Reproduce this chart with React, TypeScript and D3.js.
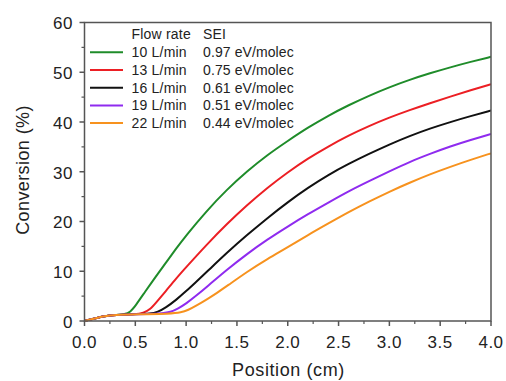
import React from "react";
import * as d3 from "d3";

const flowRates = ["10 L/min", "13 L/min", "16 L/min", "19 L/min", "22 L/min"];
const seiLabels = ["0.97 eV/molec", "0.75 eV/molec", "0.61 eV/molec", "0.51 eV/molec", "0.44 eV/molec"];
const colors = ["#1f8c2a", "#ec1f24", "#111111", "#8f2bef", "#f7921e"];

const pos10 = [0, 0.1, 0.2, 0.3, 0.4, 0.45, 0.5, 0.6, 0.7, 0.8, 0.9, 1.0, 1.2, 1.4, 1.6, 1.8, 2.0, 2.2, 2.4, 2.6, 2.8, 3.0, 3.2, 3.4, 3.6, 3.8, 4.0];
const conv10 = [0, 0.5, 1.0, 1.2, 1.35, 1.8, 3.0, 6.0, 8.9, 11.7, 14.5, 17.2, 22.1, 26.4, 30.1, 33.4, 36.2, 38.9, 41.3, 43.4, 45.3, 47.0, 48.5, 49.8, 51.0, 52.1, 53.1];

const pos13 = [0, 0.1, 0.2, 0.3, 0.5, 0.58, 0.65, 0.7, 0.8, 0.9, 1.0, 1.2, 1.4, 1.6, 1.8, 2.0, 2.2, 2.4, 2.6, 2.8, 3.0, 3.2, 3.4, 3.6, 3.8, 4.0];
const conv13 = [0, 0.5, 1.0, 1.2, 1.35, 1.6, 2.4, 3.6, 6.0, 8.5, 10.8, 15.3, 19.5, 23.3, 26.8, 29.9, 32.7, 35.1, 37.3, 39.2, 40.9, 42.4, 43.8, 45.1, 46.4, 47.6];

const pos16 = [0, 0.1, 0.2, 0.3, 0.5, 0.65, 0.72, 0.8, 0.9, 1.0, 1.1, 1.2, 1.4, 1.6, 1.8, 2.0, 2.2, 2.4, 2.6, 2.8, 3.0, 3.2, 3.4, 3.6, 3.8, 4.0];
const conv16 = [0, 0.5, 1.0, 1.2, 1.35, 1.45, 1.8, 2.7, 4.2, 6.0, 7.9, 9.8, 13.7, 17.3, 20.7, 23.9, 26.8, 29.4, 31.6, 33.6, 35.5, 37.2, 38.7, 40.0, 41.2, 42.3];

const pos19 = [0, 0.1, 0.2, 0.3, 0.5, 0.75, 0.85, 0.92, 1.0, 1.1, 1.2, 1.4, 1.6, 1.8, 2.0, 2.2, 2.4, 2.6, 2.8, 3.0, 3.2, 3.4, 3.6, 3.8, 4.0];
const conv19 = [0, 0.5, 1.0, 1.2, 1.35, 1.45, 1.8, 2.5, 3.5, 5.1, 6.8, 10.3, 13.5, 16.4, 19.0, 21.5, 23.8, 26.1, 28.1, 30.1, 32.0, 33.6, 35.1, 36.4, 37.6];

const pos22 = [0, 0.1, 0.2, 0.3, 0.5, 0.85, 0.95, 1.02, 1.1, 1.2, 1.3, 1.4, 1.6, 1.8, 2.0, 2.2, 2.4, 2.6, 2.8, 3.0, 3.2, 3.4, 3.6, 3.8, 4.0];
const conv22 = [0, 0.5, 1.0, 1.2, 1.35, 1.45, 1.7, 2.2, 3.1, 4.3, 5.6, 7.0, 9.9, 12.5, 14.8, 17.3, 19.6, 21.9, 24.0, 26.0, 27.8, 29.5, 31.0, 32.4, 33.7];

const positions = [pos10, pos13, pos16, pos19, pos22];
const conversions = [conv10, conv13, conv16, conv19, conv22];

const xTicks = [0, 0.5, 1.0, 1.5, 2.0, 2.5, 3.0, 3.5, 4.0];
const yTicks = [0, 10, 20, 30, 40, 50, 60];

export default function App() {
  const W = 506, H = 381;
  const x = d3.scaleLinear().domain([0, 4]).range([84.5, 491]);
  const y = d3.scaleLinear().domain([0, 60]).range([321, 22.5]);
  const font = "Liberation Sans, Arial, sans-serif";
  const axisColor = "#555";
  const textColor = "#222";
  const line = d3
    .line<[number, number]>()
    .x((d) => x(d[0]))
    .y((d) => y(d[1]))
    .curve(d3.curveBasis);
  const xMinor = d3.range(0.25, 4, 0.5);
  const yMinor = d3.range(5, 60, 10);
  const legendX0 = 90, legendX1 = 123, legendText = 131.5, legendSEI = 203;
  const rowY = (i: number) => 52.3 + i * 17.7;
  return (
    <svg width={W} height={H} style={{ position: "absolute", left: 0, top: 0 }} fontFamily={font}>
      <rect x={0} y={0} width={W} height={H} fill="#fff" />
      <defs>
        <clipPath id="plotclip">
          <rect x={x(0)} y={y(60)} width={x(4) - x(0)} height={y(0) - y(60) + 1} />
        </clipPath>
      </defs>
      <g clipPath="url(#plotclip)">
        {positions.map((p, i) => (
          <path
            key={i}
            d={line(p.map((v, j) => [v, conversions[i][j]] as [number, number])) || ""}
            fill="none"
            stroke={colors[i]}
            strokeWidth={2}
          />
        ))}
      </g>
      <rect x={x(0)} y={y(60)} width={x(4) - x(0)} height={y(0) - y(60)} fill="none" stroke={axisColor} strokeWidth={1.5} />
      {xTicks.map((t) => (
        <g key={"xt" + t}>
          <line x1={x(t)} x2={x(t)} y1={y(0)} y2={y(0) + 5} stroke={axisColor} strokeWidth={1.5} />
          <text x={x(t)} y={348} textAnchor="middle" fontSize={17} letterSpacing={0.5} fill={textColor}>
            {t.toFixed(1)}
          </text>
        </g>
      ))}
      {xMinor.map((t) => (
        <line key={"xm" + t} x1={x(t)} x2={x(t)} y1={y(0)} y2={y(0) + 3} stroke={axisColor} strokeWidth={1.2} />
      ))}
      {yTicks.map((t) => (
        <g key={"yt" + t}>
          <line x1={x(0) - 5} x2={x(0)} y1={y(t)} y2={y(t)} stroke={axisColor} strokeWidth={1.5} />
          <text x={73} y={y(t) + 6.8} textAnchor="end" fontSize={17} letterSpacing={0.5} fill={textColor}>
            {t}
          </text>
        </g>
      ))}
      {yMinor.map((t) => (
        <line key={"ym" + t} x1={x(0) - 3} x2={x(0)} y1={y(t)} y2={y(t)} stroke={axisColor} strokeWidth={1.2} />
      ))}
      <text x={288.5} y={376} textAnchor="middle" fontSize={18} letterSpacing={0.6} fill={textColor}>
        Position (cm)
      </text>
      <text
        transform={`translate(29, 170) rotate(-90)`}
        textAnchor="middle"
        fontSize={18}
        letterSpacing={0.4}
        fill={textColor}
      >
        Conversion (%)
      </text>
      <text x={legendText} y={39} fontSize={14} letterSpacing={0.2} fill={textColor}>
        Flow rate
      </text>
      <text x={legendSEI} y={39} fontSize={14} letterSpacing={0.2} fill={textColor}>
        SEI
      </text>
      {flowRates.map((f, i) => (
        <g key={"lg" + i}>
          <line x1={legendX0} x2={legendX1} y1={rowY(i)} y2={rowY(i)} stroke={colors[i]} strokeWidth={2} />
          <text x={legendText} y={rowY(i) + 5} fontSize={14} letterSpacing={0.2} fill={textColor}>
            {f}
          </text>
          <text x={legendSEI} y={rowY(i) + 5} fontSize={14} letterSpacing={0.1} fill={textColor}>
            {seiLabels[i]}
          </text>
        </g>
      ))}
    </svg>
  );
}
